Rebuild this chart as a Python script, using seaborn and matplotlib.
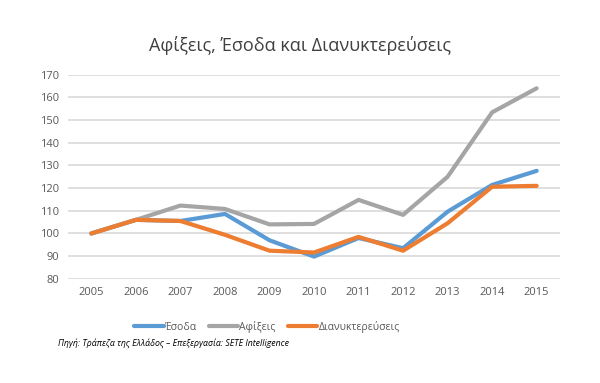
import pandas as pd
import matplotlib
matplotlib.use("Agg")
import matplotlib.pyplot as plt
import seaborn as sns

# data (index, 2005 = 100)
years = [2005, 2006, 2007, 2008, 2009, 2010, 2011, 2012, 2013, 2014, 2015]
esoda = [100, 106, 105.5, 108.6, 97, 89.8, 98, 93.5, 109.6, 121.4, 127.6]
afixeis = [100, 106, 112.3, 110.8, 104, 104.2, 114.8, 108.2, 125, 153.4, 164]
dianykt = [100, 106, 105.5, 99.4, 92.4, 91.6, 98.5, 92.4, 104.5, 120.6, 121]
series_names = ["Έσοδα", "Αφίξεις", "Διανυκτερεύσεις"]
colors = ["#5B9BD5", "#A5A5A5", "#ED7D31"]
yticks = [80, 90, 100, 110, 120, 130, 140, 150, 160, 170]

df = pd.DataFrame({"Έτος": years * 3,
                   "Τιμή": esoda + afixeis + dianykt,
                   "Σειρά": [series_names[0]] * len(years)
                            + [series_names[1]] * len(years)
                            + [series_names[2]] * len(years)})

sns.set_style("white")
plt.rcParams['font.family'] = ['Open Sans', 'DejaVu Sans']

fig = plt.figure(figsize=(6, 3.83), dpi=100)
ax = fig.add_axes([0.113, 0.272, 0.82, 0.533])

sns.lineplot(data=df, x="Έτος", y="Τιμή", hue="Σειρά", hue_order=series_names,
             palette=colors, linewidth=3, ax=ax, legend=False)

ax.set_xlim(2004.47, 2015.52)
ax.set_ylim(80, 170)
ax.set_xticks(years)
ax.set_yticks(yticks)
ax.tick_params(axis="both", labelsize=8, labelcolor="#595959", length=0, pad=6)
ax.grid(axis="y", color="#D9D9D9", linewidth=1.2)
ax.set_axisbelow(True)
for s in ax.spines.values():
    s.set_visible(False)
ax.set_xlabel("")
ax.set_ylabel("")

fig.text(0.5, 0.882, "Αφίξεις, Έσοδα και Διανυκτερεύσεις", ha="center", va="center",
         fontsize=13, color="#404040")

handles = [plt.Line2D([0], [0], color=c, linewidth=3) for c in colors]
fig.legend(handles, series_names, loc="center", bbox_to_anchor=(0.445, 0.146),
           ncol=3, frameon=False, fontsize=7.5, handlelength=2.8, columnspacing=1.2,
           handletextpad=0.1, labelcolor="#595959")

fig.text(0.097, 0.103, "Πηγή: Τράπεζα της Ελλάδος – Επεξεργασία: SETE Intelligence",
         ha="left", va="center", fontsize=6.3, style="italic", color="#000000")

fig.savefig("out.png", dpi=100)
